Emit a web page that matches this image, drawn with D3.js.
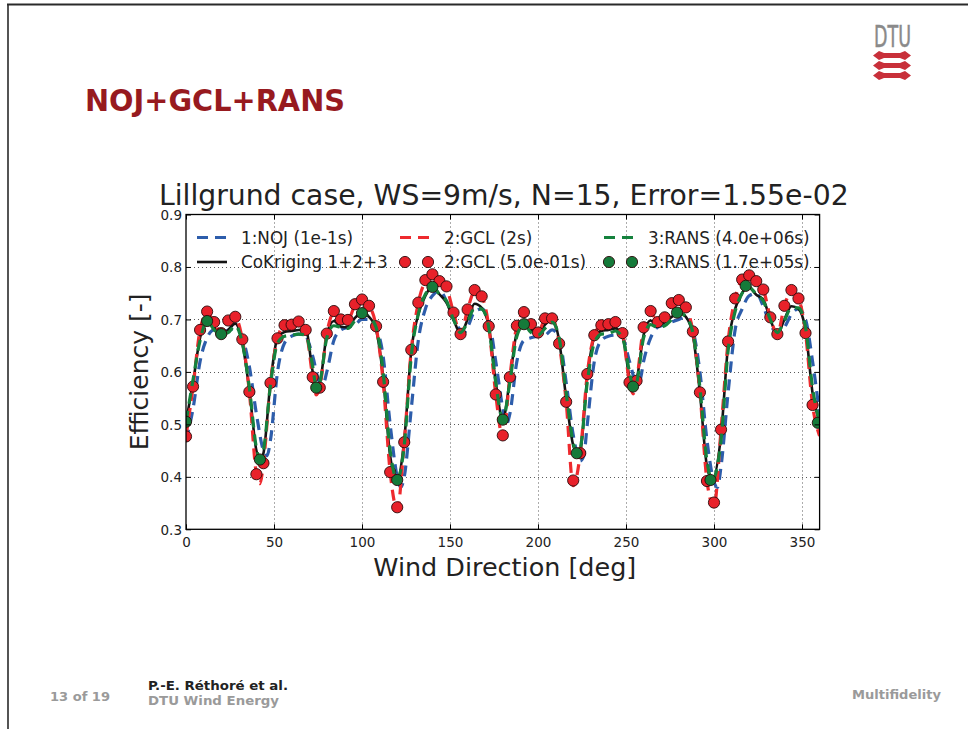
<!DOCTYPE html>
<html>
<head>
<meta charset="utf-8">
<script src="https://cdn.jsdelivr.net/npm/d3@7"></script>
<style>
  html, body { margin: 0; padding: 0; background: #fff; }
  svg { display: block; }
</style>
</head>
<body>
<svg id="slide" width="968" height="729"></svg>
<script>
// ---- Wind direction axis ticks and efficiency ticks ----
const xTicks = [0, 50, 100, 150, 200, 250, 300, 350];
const yTicks = [0.3, 0.4, 0.5, 0.6, 0.7, 0.8, 0.9];

// ---- 1: NOJ wake model (1e-1s) ----
const nojDeg = [0,4,8,12,16,20,24,28,32,36,40,44,46,48,52,56,60,64,68,72,76,78,80,84,88,92,96,100,104,108,112,116,120,122,124,128,132,136,140,144,148,152,156,158,160,164,168,172,176,180,182,184,188,192,196,200,204,208,212,216,220,224,226,228,232,236,240,244,248,252,256,258,260,264,268,272,276,280,284,288,292,296,300,302,304,308,312,316,320,324,328,332,336,340,344,348,352,356,360];
const nojVal = [0.47,0.53,0.62,0.665,0.68,0.672,0.68,0.682,0.665,0.61,0.52,0.45,0.44,0.47,0.60,0.655,0.668,0.672,0.668,0.63,0.58,0.578,0.60,0.66,0.68,0.685,0.69,0.70,0.70,0.685,0.63,0.50,0.40,0.38,0.40,0.53,0.66,0.72,0.745,0.755,0.735,0.70,0.68,0.675,0.685,0.715,0.72,0.70,0.62,0.53,0.50,0.52,0.62,0.66,0.665,0.668,0.67,0.68,0.665,0.58,0.48,0.43,0.44,0.50,0.62,0.66,0.668,0.67,0.665,0.62,0.58,0.585,0.62,0.665,0.685,0.69,0.695,0.70,0.705,0.68,0.60,0.47,0.39,0.38,0.42,0.56,0.68,0.72,0.745,0.75,0.725,0.69,0.675,0.685,0.71,0.72,0.70,0.62,0.52];

// ---- CoKriging 1+2+3 ----
const ckDeg = [0,4,8,12,16,20,24,28,32,36,40,42,44,48,52,56,60,64,68,72,74,76,80,84,88,92,96,100,104,108,112,116,120,124,128,132,136,140,144,148,152,156,160,164,168,172,176,180,184,188,192,196,200,204,208,212,216,220,222,224,228,232,236,240,244,248,252,254,256,260,264,268,272,276,280,284,288,292,296,299,304,308,312,316,319,324,328,332,336,340,344,348,352,356,360];
const ckVal = [0.505,0.58,0.665,0.697,0.685,0.667,0.680,0.692,0.655,0.565,0.45,0.432,0.445,0.58,0.665,0.676,0.678,0.680,0.681,0.60,0.572,0.58,0.67,0.697,0.686,0.685,0.703,0.712,0.705,0.68,0.59,0.44,0.395,0.47,0.64,0.71,0.745,0.763,0.748,0.732,0.70,0.673,0.70,0.730,0.722,0.688,0.58,0.509,0.585,0.675,0.692,0.680,0.672,0.69,0.70,0.66,0.55,0.46,0.445,0.45,0.59,0.665,0.678,0.680,0.683,0.668,0.59,0.572,0.585,0.67,0.698,0.688,0.695,0.705,0.713,0.705,0.67,0.56,0.42,0.394,0.48,0.65,0.72,0.75,0.764,0.747,0.738,0.70,0.672,0.70,0.725,0.72,0.68,0.56,0.503];

// ---- 2: GCL (2s), fine sweep ----
const gclDeg = [0,4,8,12,16,20,24,28,32,36,40,42,44,48,52,56,60,64,68,72,74,76,80,84,88,92,96,100,104,108,112,116,120,124,128,132,136,140,144,148,152,156,160,164,168,172,176,180,184,188,192,196,200,204,208,212,216,220,224,228,232,236,240,244,248,252,254,256,260,264,268,272,276,280,284,288,292,296,300,304,308,312,316,320,324,328,332,336,340,344,348,352,356,360];
const gclVal = [0.477,0.572,0.680,0.712,0.695,0.674,0.698,0.703,0.662,0.562,0.405,0.387,0.426,0.579,0.664,0.689,0.690,0.695,0.680,0.590,0.556,0.570,0.673,0.712,0.700,0.699,0.727,0.736,0.726,0.687,0.581,0.409,0.338,0.466,0.642,0.732,0.772,0.783,0.773,0.760,0.713,0.672,0.719,0.753,0.744,0.687,0.557,0.474,0.590,0.688,0.712,0.691,0.675,0.700,0.702,0.654,0.543,0.383,0.445,0.596,0.670,0.689,0.691,0.695,0.674,0.580,0.558,0.583,0.685,0.714,0.695,0.704,0.730,0.737,0.723,0.677,0.561,0.392,0.343,0.490,0.658,0.740,0.775,0.783,0.773,0.757,0.704,0.672,0.726,0.753,0.740,0.674,0.537,0.478];

// ---- 2: GCL (5.0e-01s), sampled every 4 deg ----
const gclPtDeg = [0,4,8,12,16,20,24,28,32,36,40,44,48,52,56,60,64,68,72,76,80,84,88,92,96,100,104,108,112,116,120,124,128,132,136,140,144,148,152,156,160,164,168,172,176,180,184,188,192,196,200,204,208,212,216,220,224,228,232,236,240,244,248,252,256,260,264,268,272,276,280,284,288,292,296,300,304,308,312,316,320,324,328,332,336,340,344,348,352,356];
const gclPtVal = [0.477,0.572,0.680,0.715,0.695,0.674,0.698,0.705,0.662,0.562,0.405,0.426,0.579,0.664,0.689,0.690,0.696,0.680,0.590,0.570,0.673,0.716,0.700,0.699,0.729,0.738,0.726,0.687,0.581,0.409,0.342,0.466,0.642,0.732,0.775,0.786,0.773,0.763,0.713,0.672,0.719,0.756,0.744,0.687,0.557,0.479,0.590,0.688,0.714,0.691,0.675,0.702,0.702,0.654,0.543,0.393,0.445,0.596,0.670,0.689,0.691,0.695,0.674,0.580,0.583,0.685,0.716,0.695,0.704,0.731,0.737,0.723,0.677,0.561,0.392,0.351,0.490,0.658,0.740,0.776,0.784,0.773,0.757,0.704,0.672,0.726,0.756,0.740,0.674,0.537];

// ---- 3: RANS (4.0e+06s) ----
const ransDeg = ckDeg;
const ransVal = [0.505,0.585,0.66,0.697,0.68,0.672,0.675,0.688,0.655,0.57,0.455,0.434,0.45,0.575,0.655,0.668,0.670,0.672,0.670,0.61,0.572,0.58,0.665,0.688,0.685,0.683,0.698,0.712,0.705,0.685,0.60,0.45,0.395,0.46,0.63,0.71,0.748,0.763,0.748,0.735,0.70,0.675,0.695,0.722,0.72,0.685,0.58,0.509,0.58,0.668,0.690,0.675,0.670,0.683,0.695,0.665,0.56,0.465,0.445,0.455,0.58,0.655,0.672,0.673,0.678,0.665,0.60,0.572,0.58,0.665,0.69,0.685,0.688,0.70,0.713,0.705,0.675,0.57,0.43,0.394,0.47,0.64,0.715,0.75,0.764,0.748,0.735,0.70,0.675,0.698,0.722,0.722,0.685,0.57,0.503];

// ---- 3: RANS (1.7e+05s) samples ----
const ransPtDeg = [0,12,20,42,74,100,120,140,180,192,222,254,279,298,318,359];
const ransPtVal = [0.505,0.697,0.672,0.433,0.570,0.712,0.394,0.762,0.509,0.691,0.445,0.572,0.713,0.394,0.764,0.503];

// ---- Legend entries (column-major like the plotting order) ----
const legendLabels = ["1:NOJ (1e-1s)", "CoKriging 1+2+3", "2:GCL (2s)", "2:GCL (5.0e-01s)", "3:RANS (4.0e+06s)", "3:RANS (1.7e+05s)"];

const C = {
  noj: "#2d5dab",
  gcl: "#ee2a2e",
  gclPt: "#e8212a",
  rans: "#15823d",
  ransPt: "#157a3a",
  ck: "#141414",
  title: "#971a1f",
  gray: "#9a9a9a",
  logoRed: "#c8303a"
};
const FONT = "'DejaVu Sans', Verdana, sans-serif";
const COND = "'DejaVu Sans Condensed', 'DejaVu Sans', sans-serif";

const svg = d3.select("#slide");
svg.append("rect").attr("width", 968).attr("height", 729).attr("fill", "#fff");

// fit a text element to a given width by scaling its font size
function fitWidth(sel, w) {
  const n = sel.node();
  const len = n.getComputedTextLength();
  const fs = parseFloat(sel.attr("font-size"));
  if (len > 0) sel.attr("font-size", (fs * w / len).toFixed(2));
  return sel;
}

// ---- slide frame ----
svg.append("line").attr("x1", 7).attr("x2", 968).attr("y1", 4.5).attr("y2", 4.5)
  .attr("stroke", "#2a2a2a").attr("stroke-width", 2);
svg.append("line").attr("x1", 8).attr("x2", 8).attr("y1", 4).attr("y2", 729)
  .attr("stroke", "#2a2a2a").attr("stroke-width", 1.6);

// ---- slide heading ----
svg.append("text").attr("x", 85).attr("y", 111)
  .attr("font-family", COND).attr("font-weight", "bold").attr("font-stretch", "condensed")
  .attr("font-size", 31).attr("fill", C.title)
  .attr("textLength", 260).attr("lengthAdjust", "spacingAndGlyphs").text("NOJ+GCL+RANS");

// ---- DTU logo ----
const logo = svg.append("g");
logo.append("text").attr("x", 874).attr("y", 47)
  .attr("font-family", COND).attr("font-stretch", "condensed")
  .attr("font-size", 30).attr("fill", "#8a8a8a").attr("stroke", "#8a8a8a").attr("stroke-width", 0.5)
  .attr("textLength", 37).attr("lengthAdjust", "spacingAndGlyphs").text("DTU");
const barYs = [55.5, 65.5, 75.5];
barYs.forEach(cy => {
  const x0 = 873, x1 = 911;
  const p = d3.path();
  p.moveTo(x0, cy);
  p.lineTo(x0 + 6, cy - 4.6);
  p.lineTo(x0 + 11, cy - 2.4);
  p.lineTo(x1 - 11, cy - 2.4);
  p.lineTo(x1 - 6, cy - 4.6);
  p.lineTo(x1, cy);
  p.lineTo(x1 - 6, cy + 4.6);
  p.lineTo(x1 - 11, cy + 2.4);
  p.lineTo(x0 + 11, cy + 2.4);
  p.lineTo(x0 + 6, cy + 4.6);
  p.closePath();
  logo.append("path").attr("d", p.toString()).attr("fill", C.logoRed);
});

// ---- footer ----
function footText(xp, yp, txt, color, w, size) {
  return svg.append("text").attr("x", xp).attr("y", yp)
    .attr("font-family", COND).attr("font-weight", "bold").attr("font-stretch", "condensed")
    .attr("font-size", size || 12.5).attr("fill", color)
    .attr("textLength", w).attr("lengthAdjust", "spacingAndGlyphs").text(txt);
}
footText(50, 701, "13 of 19", C.gray, 60);
footText(148, 690, "P.-E. Réthoré et al.", "#222", 140, 12);
footText(148, 705, "DTU Wind Energy", C.gray, 131, 12);
footText(852, 699, "Multifidelity", C.gray, 89);

// ---- chart ----
const L = 186, R = 819.6, T = 214.5, B = 529.3;
const x = d3.scaleLinear().domain([0, 360]).range([L, R]);
const y = d3.scaleLinear().domain([0.3, 0.9]).range([B, T]);

svg.append("defs").append("clipPath").attr("id", "plotclip")
  .append("rect").attr("x", L).attr("y", T).attr("width", R - L).attr("height", B - T);

// grid
const grid = svg.append("g").attr("stroke", "#222").attr("stroke-width", 1)
  .attr("stroke-dasharray", "1,3").attr("opacity", 0.75);
grid.selectAll(".gx").data(xTicks.filter(d => d > 0)).join("line")
  .attr("x1", d => Math.round(x(d)) + 0.5).attr("x2", d => Math.round(x(d)) + 0.5)
  .attr("y1", T).attr("y2", B);
grid.selectAll(".gy").data(yTicks.filter(d => d > 0.3 && d < 0.9)).join("line")
  .attr("y1", d => Math.round(y(d)) + 0.5).attr("y2", d => Math.round(y(d)) + 0.5)
  .attr("x1", L).attr("x2", R);

// series
const plot = svg.append("g").attr("clip-path", "url(#plotclip)");
const lineGen = d3.line().x(d => x(d[0])).y(d => y(d[1])).curve(d3.curveMonotoneX);
const zip = (a, b) => a.map((d, i) => [d, b[i]]);

function dashed(deg, val, color) {
  plot.append("path").datum(zip(deg, val)).attr("d", lineGen)
    .attr("fill", "none").attr("stroke", color).attr("stroke-width", 3.2)
    .attr("stroke-dasharray", "11,7");
}
function dots(deg, val, color) {
  plot.append("g").selectAll("circle").data(zip(deg, val)).join("circle")
    .attr("cx", d => x(d[0])).attr("cy", d => y(d[1])).attr("r", 5.6)
    .attr("fill", color).attr("stroke", "#2a0a0a").attr("stroke-width", 0.9);
}

dashed(nojDeg, nojVal, C.noj);
plot.append("path").datum(zip(ckDeg, ckVal)).attr("d", lineGen)
  .attr("fill", "none").attr("stroke", C.ck).attr("stroke-width", 2.6);
dashed(gclDeg, gclVal, C.gcl);
dots(gclPtDeg, gclPtVal, C.gclPt);
dashed(ransDeg, ransVal, C.rans);
dots(ransPtDeg, ransPtVal, C.ransPt);

// axes
const axB = svg.append("g").attr("transform", `translate(0,${B})`)
  .call(d3.axisBottom(x).tickValues(xTicks).tickFormat(d3.format("d")).tickSizeInner(-5).tickSizeOuter(0).tickPadding(8));
const axT = svg.append("g").attr("transform", `translate(0,${T})`)
  .call(d3.axisTop(x).tickValues(xTicks).tickFormat("").tickSizeInner(-5).tickSizeOuter(0));
const axL = svg.append("g").attr("transform", `translate(${L},0)`)
  .call(d3.axisLeft(y).tickValues(yTicks).tickFormat(d3.format(".1f")).tickSizeInner(-5).tickSizeOuter(0).tickPadding(4));
const axR = svg.append("g").attr("transform", `translate(${R},0)`)
  .call(d3.axisRight(y).tickValues(yTicks).tickFormat("").tickSizeInner(-5).tickSizeOuter(0));
[axB, axT, axL, axR].forEach(g => {
  g.select(".domain").remove();
  g.selectAll(".tick line").attr("stroke", "#000").attr("stroke-width", 1);
  g.selectAll(".tick text").attr("font-family", FONT).attr("font-size", 13.5).attr("fill", "#222");
});
axL.selectAll(".tick text").attr("dy", "0.36em");

// frame
svg.append("rect").attr("x", L).attr("y", T).attr("width", R - L).attr("height", B - T)
  .attr("fill", "none").attr("stroke", "#000").attr("stroke-width", 1.3);

// legend (no frame, 3 columns)
const legCols = [197, 400, 604];
const legRows = [237.5, 262];
const leg = svg.append("g");
const legSpec = [
  { col: 0, row: 0, kind: "dash", color: C.noj },
  { col: 0, row: 1, kind: "solid", color: C.ck },
  { col: 1, row: 0, kind: "dash", color: C.gcl },
  { col: 1, row: 1, kind: "dots", color: C.gclPt },
  { col: 2, row: 0, kind: "dash", color: C.rans },
  { col: 2, row: 1, kind: "dots", color: C.ransPt }
];
legSpec.forEach((s, i) => {
  const x0 = legCols[s.col], cy = legRows[s.row];
  if (s.kind === "dash") {
    leg.append("line").attr("x1", x0).attr("x2", x0 + 30).attr("y1", cy).attr("y2", cy)
      .attr("stroke", s.color).attr("stroke-width", 3.2).attr("stroke-dasharray", "11,7");
  } else if (s.kind === "solid") {
    leg.append("line").attr("x1", x0).attr("x2", x0 + 30).attr("y1", cy).attr("y2", cy)
      .attr("stroke", s.color).attr("stroke-width", 2.6);
  } else {
    [x0 + 5, x0 + 28].forEach(cx => leg.append("circle").attr("cx", cx).attr("cy", cy).attr("r", 5.6)
      .attr("fill", s.color).attr("stroke", "#2a0a0a").attr("stroke-width", 0.9));
  }
  leg.append("text").attr("x", x0 + 44).attr("y", cy).attr("dy", "0.36em")
    .attr("font-family", FONT).attr("font-size", 16.8).attr("fill", "#222")
    .text(legendLabels[i]);
});

// titles
fitWidth(svg.append("text").attr("x", (L + R) / 2 + 1).attr("y", 205).attr("text-anchor", "middle")
  .attr("font-family", FONT).attr("font-size", 26.5).attr("fill", "#222")
  .text("Lillgrund case, WS=9m/s, N=15, Error=1.55e-02"), 690);
fitWidth(svg.append("text").attr("x", (L + R) / 2 + 2).attr("y", 576).attr("text-anchor", "middle")
  .attr("font-family", FONT).attr("font-size", 25).attr("fill", "#222")
  .text("Wind Direction [deg]"), 263);
fitWidth(svg.append("text").attr("transform", `translate(148,${(T + B) / 2}) rotate(-90)`)
  .attr("text-anchor", "middle")
  .attr("font-family", FONT).attr("font-size", 25).attr("fill", "#222")
  .text("Efficiency [-]"), 157);
</script>
</body>
</html>
